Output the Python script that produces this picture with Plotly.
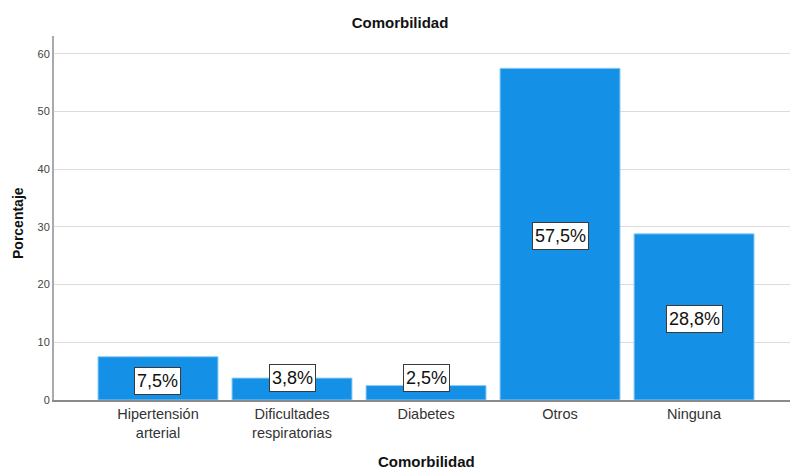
import plotly.graph_objects as go

categories = ["Hipertensión<br>arterial", "Dificultades<br>respiratorias", "Diabetes", "Otros", "Ninguna"]
percentages = [7.5, 3.8, 2.5, 57.5, 28.8]
y_ticks = [0, 10, 20, 30, 40, 50, 60]

positions = list(range(len(categories)))
FONT = "Arial, Liberation Sans, sans-serif"

fig = go.Figure()
fig.add_trace(go.Bar(
    x=positions,
    y=percentages,
    marker=dict(color="#1490e6", line=dict(color="#8ccbf5", width=1)),
    width=0.895,
    hoverinfo="skip",
))

# Value labels: centred in tall bars; short bars get the label at a fixed low height
for xi, v in zip(positions, percentages):
    if v >= 5:
        y_lab, shift = v / 2, -2.3
    else:
        y_lab, shift = 3.9, 0
    fig.add_annotation(
        x=xi, y=y_lab, yshift=shift,
        text=f"{v:.1f}%".replace(".", ","),
        showarrow=False,
        font=dict(family=FONT, size=18, color="#111111"),
        bgcolor="white",
        bordercolor="#3a3a3a",
        borderwidth=1,
        borderpad=2,
        height=22,
        valign="middle",
    )

# Axis titles placed as annotations
fig.add_annotation(
    xref="paper", yref="paper", x=(427 - 54) / 736, y=-61 / 364,
    text="<b>Comorbilidad</b>", showarrow=False,
    font=dict(family=FONT, size=15, color="#111111"),
    xanchor="center", yanchor="middle",
)
fig.add_annotation(
    xref="paper", yref="paper", x=(18 - 54) / 736, y=(400 - 223) / 364,
    text="<b>Porcentaje</b>", showarrow=False, textangle=-90,
    font=dict(family=FONT, size=14, color="#111111"),
    xanchor="center", yanchor="middle",
)

fig.update_layout(
    width=790, height=470,
    margin=dict(l=54, r=0, t=36, b=70),
    paper_bgcolor="white",
    plot_bgcolor="white",
    showlegend=False,
    title=dict(
        text="<b>Comorbilidad</b>",
        x=400 / 790, xanchor="center", y=1 - 23 / 470, yanchor="middle",
        font=dict(family=FONT, size=15, color="#111111"),
    ),
    font=dict(family=FONT, color="#333333"),
)

fig.update_xaxes(
    range=[-0.776, 4.716],
    tickvals=positions,
    ticktext=categories,
    tickfont=dict(size=14.5, color="#333333"),
    showline=True, linecolor="#8a8a8a", linewidth=2,
    showgrid=False, zeroline=False, ticks="",
)

fig.update_yaxes(
    range=[0, 63.1],
    tickvals=y_ticks,
    tickfont=dict(size=11, color="#444444"),
    showline=True, linecolor="#aaaaaa", linewidth=2,
    showgrid=True, gridcolor="#dcdcdc", gridwidth=1,
    zeroline=False, ticks="",
)

fig.write_html("out.html")
